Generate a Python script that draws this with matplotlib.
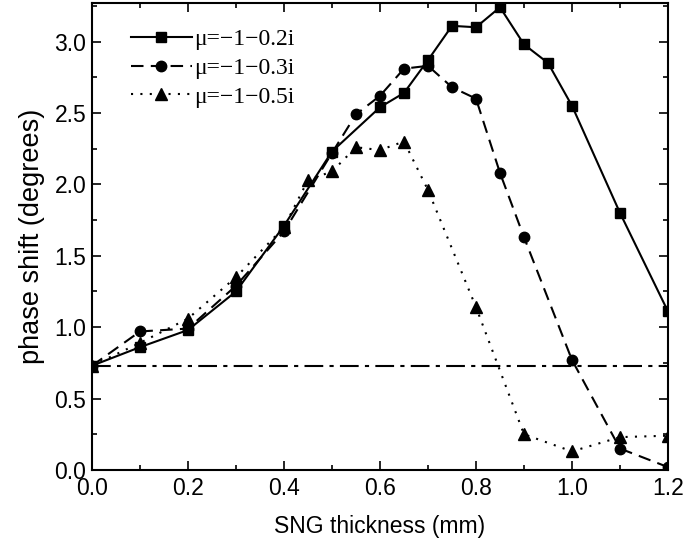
import numpy as np
import matplotlib
matplotlib.use('Agg')
import matplotlib.pyplot as plt
from matplotlib.ticker import MultipleLocator

# mu = -1-0.2i
x_a = [0.0, 0.1, 0.2, 0.3, 0.4, 0.5, 0.6, 0.65, 0.7, 0.75, 0.8, 0.85, 0.9, 0.95, 1.0, 1.1, 1.2]
y_a = [0.73, 0.86, 0.98, 1.25, 1.71, 2.23, 2.54, 2.64, 2.87, 3.11, 3.10, 3.24, 2.98, 2.85, 2.55, 1.80, 1.11]

# mu = -1-0.3i
x_b = [0.0, 0.1, 0.2, 0.3, 0.4, 0.5, 0.55, 0.6, 0.65, 0.7, 0.75, 0.8, 0.85, 0.9, 1.0, 1.1, 1.2]
y_b = [0.73, 0.97, 0.99, 1.29, 1.67, 2.22, 2.49, 2.62, 2.81, 2.83, 2.68, 2.60, 2.08, 1.63, 0.77, 0.15, 0.02]

# mu = -1-0.5i
x_c = [0.0, 0.1, 0.2, 0.3, 0.4, 0.45, 0.5, 0.55, 0.6, 0.65, 0.7, 0.8, 0.9, 1.0, 1.1, 1.2]
y_c = [0.73, 0.89, 1.06, 1.35, 1.70, 2.03, 2.09, 2.26, 2.24, 2.30, 1.96, 1.14, 0.25, 0.13, 0.23, 0.24]

labels = ['\u03bc=\u22121\u22120.2i', '\u03bc=\u22121\u22120.3i', '\u03bc=\u22121\u22120.5i']
ref_level = 0.73

plt.rcParams['font.family'] = ['Liberation Sans', 'DejaVu Sans']

fig = plt.figure(figsize=(6.84, 5.52), dpi=100)
ax = fig.add_axes([0.1345, 0.1486, 0.8421, 0.846])

ax.plot(x_a, y_a, '-', color='black', lw=1.5, marker='s', ms=7, label=labels[0])
ax.plot(x_b, y_b, color='black', lw=1.5, ls=(0, (6, 3.5)), marker='o', ms=7.5, label=labels[1])
ax.plot(x_c, y_c, color='black', lw=1.5, ls=(0, (1, 3.5)), marker='^', ms=8, label=labels[2])
ax.axhline(ref_level, color='black', lw=1.5, ls=(0, (9, 3, 2, 3)))

ax.set_xlim(0, 1.2)
ax.set_ylim(0, 3.27)
ax.xaxis.set_major_locator(MultipleLocator(0.2))
ax.xaxis.set_minor_locator(MultipleLocator(0.1))
ax.yaxis.set_major_locator(MultipleLocator(0.5))
ax.yaxis.set_minor_locator(MultipleLocator(0.25))
ax.xaxis.set_major_formatter(plt.FormatStrFormatter('%.1f'))
ax.yaxis.set_major_formatter(plt.FormatStrFormatter('%.1f'))
ax.tick_params(which='both', direction='in', top=True, right=True, width=1.2)
ax.tick_params(which='major', length=6.5, labelsize=16.5)
ax.tick_params(axis='x', which='major', pad=5)
ax.tick_params(axis='y', which='major', pad=4)
ax.tick_params(which='minor', length=3.5)
for s in ax.spines.values():
    s.set_linewidth(1.5)

ax.set_xlabel('SNG thickness (mm)', fontsize=16.5, labelpad=11)
ax.set_ylabel('phase shift (degrees)', fontsize=19.5, labelpad=7)

leg = ax.legend(loc='upper left', bbox_to_anchor=(0.03, 0.99), frameon=False,
                handlelength=2.6, handletextpad=0.1, labelspacing=0.3,
                prop={'family': 'Liberation Serif', 'size': 17})

plt.savefig('out.png', dpi=100)
